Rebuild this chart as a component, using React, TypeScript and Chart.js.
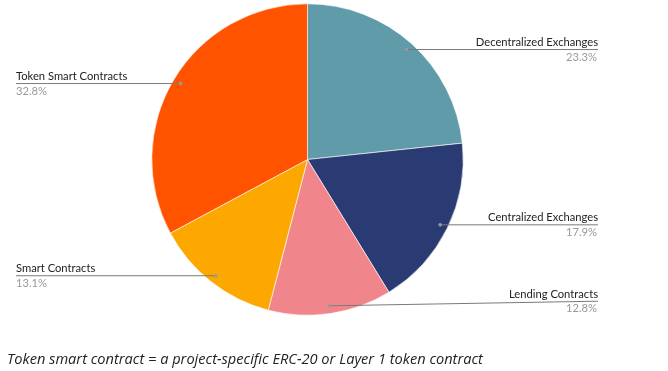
import React, { useEffect, useRef } from "react";
import { Chart, registerables } from "chart.js";

Chart.register(...registerables);

const categories = [
  "Decentralized Exchanges",
  "Centralized Exchanges",
  "Lending Contracts",
  "Smart Contracts",
  "Token Smart Contracts",
];
const shares = [23.3, 17.9, 12.8, 13.1, 32.8];
const colors = ["#5F9BA8", "#2A3A73", "#F0868C", "#FCA800", "#FF5300"];
const caption = "Token smart contract = a project-specific ERC-20 or Layer 1 token contract";

const leaderPlugin = {
  id: "leaderLabels",
  afterDraw(chart: any) {
    const ctx = chart.ctx;
    const meta = chart.getDatasetMeta(0);
    const rightX = chart.width - 70;
    const leftX = 16;
    ctx.save();
    meta.data.forEach((arc: any, i: number) => {
      const p = arc.getProps(["x", "y", "startAngle", "endAngle", "outerRadius"], true);
      const mid = (p.startAngle + p.endAngle) / 2;
      const ax = p.x + Math.cos(mid) * p.outerRadius * 0.95;
      const ay = p.y + Math.sin(mid) * p.outerRadius * 0.95;
      const right = Math.cos(mid) >= 0;
      const bottomLimit = p.y + p.outerRadius - 14;
      const ly = Math.min(ay, bottomLimit);
      const ex = right ? rightX : leftX;
      ctx.strokeStyle = "#7a7a7a";
      ctx.lineWidth = 1;
      ctx.beginPath();
      ctx.moveTo(ax, ay);
      ctx.lineTo(ex, ly);
      ctx.stroke();
      ctx.fillStyle = "#9a9a9a";
      ctx.beginPath();
      ctx.arc(ax, ay, 1.8, 0, Math.PI * 2);
      ctx.fill();
      ctx.textAlign = right ? "right" : "left";
      ctx.font = "11.2px Lato";
      ctx.fillStyle = "#222222";
      ctx.textBaseline = "bottom";
      ctx.fillText(categories[i], ex, ly - 1.5);
      ctx.fillStyle = "#999999";
      ctx.textBaseline = "top";
      ctx.fillText(shares[i].toFixed(1) + "%", right ? ex - 1 : ex, ly + 2);
    });
    ctx.restore();
  },
};

export default function App() {
  const ref = useRef<HTMLCanvasElement>(null);
  useEffect(() => {
    if (!ref.current) return;
    const chart = new Chart(ref.current, {
      type: "pie",
      data: {
        labels: categories,
        datasets: [
          {
            data: shares,
            backgroundColor: colors,
            borderColor: "#ffffff",
            borderWidth: 0.6,
          },
        ],
      },
      options: {
        animation: false,
        responsive: false,
        layout: { padding: { left: 0, right: 53, top: 3.5, bottom: 55.5 } },
        plugins: {
          legend: { display: false },
          tooltip: { enabled: false },
        },
      },
      plugins: [leaderPlugin],
    });
    return () => chart.destroy();
  }, []);
  return (
    <div style={{ position: "absolute", left: 0, top: 0, width: 668, height: 371, background: "#fff" }}>
      <canvas ref={ref} width={668} height={371} style={{ position: "absolute", left: 0, top: 0 }} />
      <div
        style={{
          position: "absolute",
          left: 7,
          top: 348,
          fontFamily: "'Open Sans', sans-serif",
          fontStyle: "italic",
          fontSize: 14.6,
          color: "#222",
          whiteSpace: "nowrap",
          lineHeight: "20px",
        }}
      >
        {caption}
      </div>
    </div>
  );
}
